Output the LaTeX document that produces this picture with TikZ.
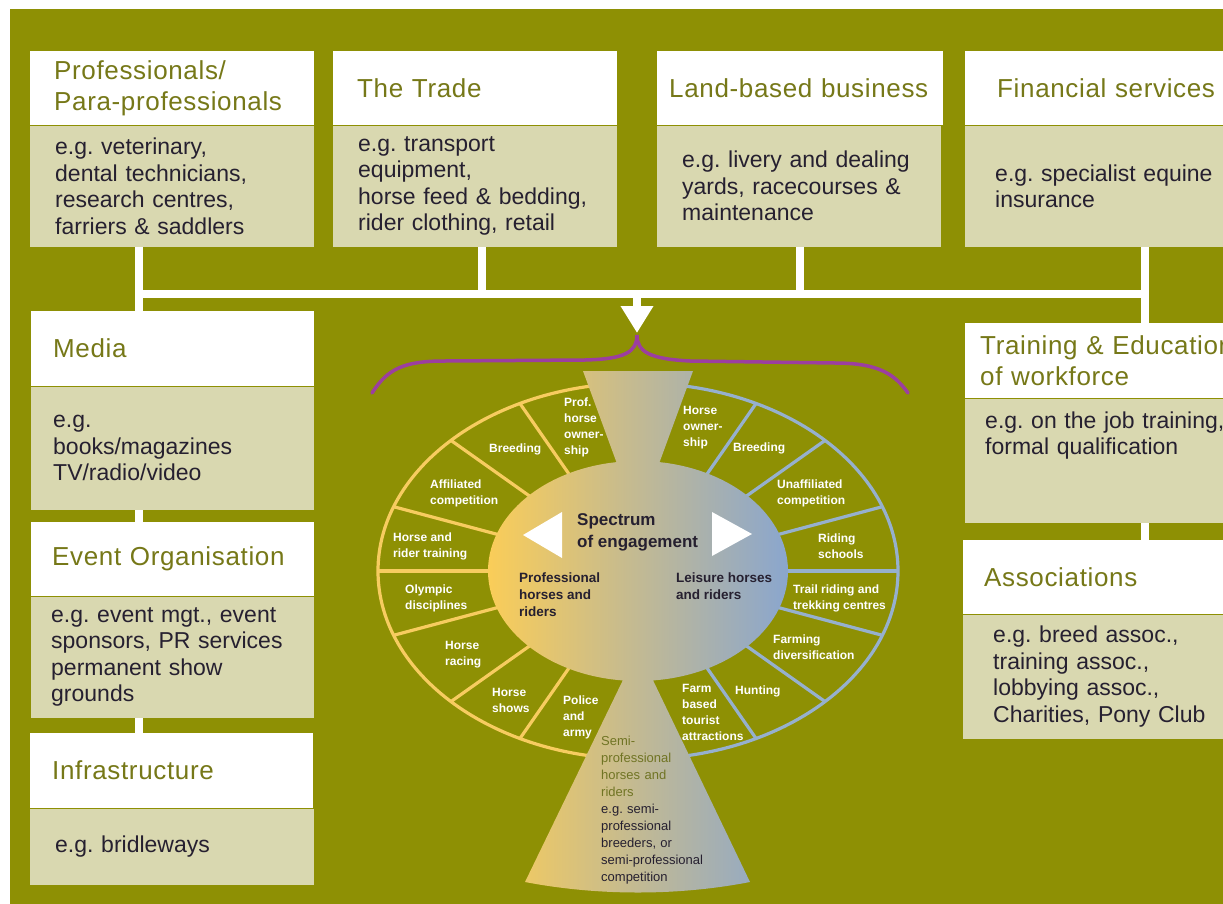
\documentclass[tikz,border=0pt]{standalone}
\usepackage{fontspec}
\setmainfont{Liberation Sans}
\newfontfamily\headfont[LetterSpace=2.5]{Liberation Sans}
\usetikzlibrary{arrows.meta}

\definecolor{bgolive}{RGB}{142,144,4}
\definecolor{boxkhaki}{RGB}{217,216,176}
\definecolor{headtext}{RGB}{118,120,24}
\definecolor{bodytext}{RGB}{38,32,48}
\definecolor{ringyellow}{RGB}{247,204,96}
\definecolor{ringblue}{RGB}{150,176,206}
\definecolor{shadeyellow}{RGB}{250,205,88}
\definecolor{shadeblue}{RGB}{138,166,206}
\definecolor{semitext}{RGB}{112,116,36}
\definecolor{bracepurple}{RGB}{156,62,160}

\begin{document}
\begin{tikzpicture}[x=1pt, y=-1pt,
    head/.style={fill=white, anchor=north west, align=left, inner xsep=24pt, inner ysep=6pt, text width=236pt, minimum height=74pt, text=headtext, font=\headfont\fontsize{26}{31}\selectfont},
    body/.style={fill=boxkhaki, anchor=north west, align=left, inner xsep=25pt, inner ysep=8pt, text width=234pt, minimum height=121pt, text=bodytext, font=\frenchspacing\fontsize{23}{26.5}\selectfont},
    link/.style={draw=white, line width=8pt},
    ring/.style={line width=3.2pt},
    seg/.style={anchor=west, align=left, inner sep=0pt, text=white, font=\bfseries\fontsize{12}{16}\selectfont},
    centre/.style={anchor=west, align=left, inner sep=0pt, text=bodytext}]

    \useasboundingbox (0,0) rectangle (1223,904);
    \clip (0,0) rectangle (1223,904);

    % background
    \fill[bgolive] (9.5,9.5) rectangle (1240,920);

    % top row of sectors
    \node[head] (profh) at (30,51) {Professionals/\\Para-professionals};
    \node[body] (profb) at (profh.south west) {e.g. veterinary,\\dental technicians,\\research centres,\\farriers \& saddlers};
    \node[head] (tradeh) at (333,51) {The Trade};
    \node[body] (tradeb) at (tradeh.south west) {e.g. transport\\equipment,\\horse feed \& bedding,\\rider clothing, retail};
    \node[head, inner xsep=12pt, text width=262pt] (landh) at (657,51) {Land-based business};
    \node[body] (landb) at (landh.south west) {e.g. livery and dealing\\yards, racecourses \&\\maintenance};
    \node[head, inner xsep=32pt, text width=260pt] (finh) at (965,51) {Financial services};
    \node[body, inner xsep=30pt, text width=260pt] (finb) at (finh.south west) {e.g. specialist equine\\insurance};

    % left column
    \node[head, inner xsep=22pt, text width=239pt, minimum height=75pt] (mediah) at (31,311) {Media};
    \node[body, inner xsep=22pt, text width=239pt, minimum height=123pt] (mediab) at (mediah.south west) {e.g.\\books/magazines\\TV/radio/video};
    \node[head, inner xsep=21pt, text width=241pt] (eventh) at (31,522) {Event Organisation};
    \node[body, inner xsep=20pt, text width=243pt] (eventb) at (eventh.south west) {e.g. event mgt., event\\sponsors, PR services\\permanent show\\grounds};
    \node[head, inner xsep=22pt, text width=239pt, minimum height=75pt] (infrah) at (30,733) {Infrastructure};
    \node[body, minimum height=76pt] (infrab) at (infrah.south west) {e.g. bridleways};

    % right column
    \node[head, inner xsep=15pt, text width=300pt, minimum height=75pt] (trainh) at (965,323) {Training \& Education\\of workforce};
    \node[body, inner xsep=20pt, text width=300pt, minimum height=124pt, text depth=81pt] (trainb) at (trainh.south west) {e.g. on the job training,\\formal qualification};
    \node[head, inner xsep=21pt, text width=300pt] (assoch) at (963,540) {Associations};
    \node[body, inner xsep=30pt, text width=260pt, minimum height=124pt] (assocb) at (assoch.south west) {e.g. breed assoc.,\\training assoc.,\\lobbying assoc.,\\Charities, Pony Club};

    % links
    \coordinate (busl) at (139,294);
    \coordinate (busr) at (1145,294);
    \coordinate (bracetop) at (637,335);
    \draw[link] ([xshift=109pt]profb.south west) -- ([xshift=108pt]mediah.north west);
    \draw[link] ([xshift=108pt]mediab.south west) -- ([xshift=108pt]eventh.north west);
    \draw[link] ([xshift=108pt]eventb.south west) -- ([xshift=109pt]infrah.north west);
    \draw[link] (busl) -- (busr);
    \draw[link] ([xshift=149pt]tradeb.south west) -- ([xshift=149pt]tradeb.south west |- busl);
    \draw[link] ([xshift=143pt]landb.south west) -- ([xshift=143pt]landb.south west |- busl);
    \draw[link] ([xshift=180pt]finb.south west) -- ([xshift=180pt]trainh.north west);
    \draw[link] ([xshift=180pt]trainb.south west) -- ([xshift=182pt]assoch.north west);
    \draw[link, -{Triangle[width=31pt, length=27pt]}] (bracetop |- busl) -- ([yshift=2pt]bracetop);

    % spectrum of engagement
    \begin{scope}[shift={(638,571)}, yscale=-1]
        \draw[ring, ringyellow] (90:260 and 188) arc[start angle=90, end angle=270, x radius=260, y radius=188];
        \draw[ring, ringblue] (-90:260 and 188) arc[start angle=-90, end angle=90, x radius=260, y radius=188];
        \foreach \a in {117,136,160,180,200,224,243}
            \draw[ring, ringyellow] (\a:140 and 100) -- (\a:260 and 188);
        \foreach \a in {63,44,20,0,-20,-44,-63}
            \draw[ring, ringblue] (\a:140 and 100) -- (\a:260 and 188);
        % hourglass
        \shade[left color=shadeyellow, right color=shadeblue]
            (0,0) ellipse[x radius=150, y radius=110]
            (55,200) -- (-55,200) -- (0,50) -- cycle
            (0,-78) -- (-113,-311) .. controls (-40,-325) and (40,-325) .. (112,-311) -- cycle;
    \end{scope}

    \fill[white] (523,535) -- (562,512) -- (562,558) -- cycle;
    \fill[white] (752,534) -- (712,512) -- (712,556) -- cycle;

    % brace
    \draw[bracepurple, line width=3.5pt, line cap=round] (372,393) .. controls (388,368) and (405,361) .. (445,361) -- (585,360) .. controls (625,359) and (637,352) .. (bracetop) .. controls (637,352) and (650,359) .. (690,361) -- (835,363) .. controls (880,363) and (895,375) .. (908,393);

    % segments
    \node[seg] (profown) at (564,427) {Prof.\\horse\\owner-\\ship};
    \node[seg] (breedl) at (489,449) {Breeding};
    \node[seg] (affil) at (430,493) {Affiliated\\competition};
    \node[seg] (ridertrain) at (393,546) {Horse and\\rider training};
    \node[seg] (olymp) at (405,598) {Olympic\\disciplines};
    \node[seg] (racing) at (445,655) {Horse\\racing};
    \node[seg] (shows) at (492,700) {Horse\\shows};
    \node[seg] (police) at (563,717) {Police\\and\\army};
    \node[seg] (horseown) at (683,428) {Horse\\owner-\\ship};
    \node[seg] (breedr) at (733,448) {Breeding};
    \node[seg] (unaffil) at (777,493) {Unaffiliated\\competition};
    \node[seg] (riding) at (818,546) {Riding\\schools};
    \node[seg] (trail) at (793,598) {Trail riding and\\trekking centres};
    \node[seg] (farming) at (773,647) {Farming\\diversification};
    \node[seg] (hunting) at (735,691) {Hunting};
    \node[seg] (tourist) at (682,712) {Farm\\based\\tourist\\attractions};

    \node[centre, font=\bfseries\fontsize{17}{22}\selectfont] (spectrum) at (577,532) {Spectrum\\of engagement};
    \node[centre, font=\bfseries\fontsize{13.5}{17}\selectfont] (profriders) at (519,595) {Professional\\horses and\\riders};
    \node[centre, font=\bfseries\fontsize{13.5}{17}\selectfont] (leisure) at (676,586) {Leisure horses\\and riders};
    \node[centre, text width=112pt, font=\frenchspacing\fontsize{13}{17}\selectfont] (semipro) at (601,810) {\color{semitext}Semi-\\professional\\horses and\\riders\\\color{bodytext}e.g. semi-\\professional\\breeders, or\\semi-professional\\competition};

\end{tikzpicture}
\end{document}
